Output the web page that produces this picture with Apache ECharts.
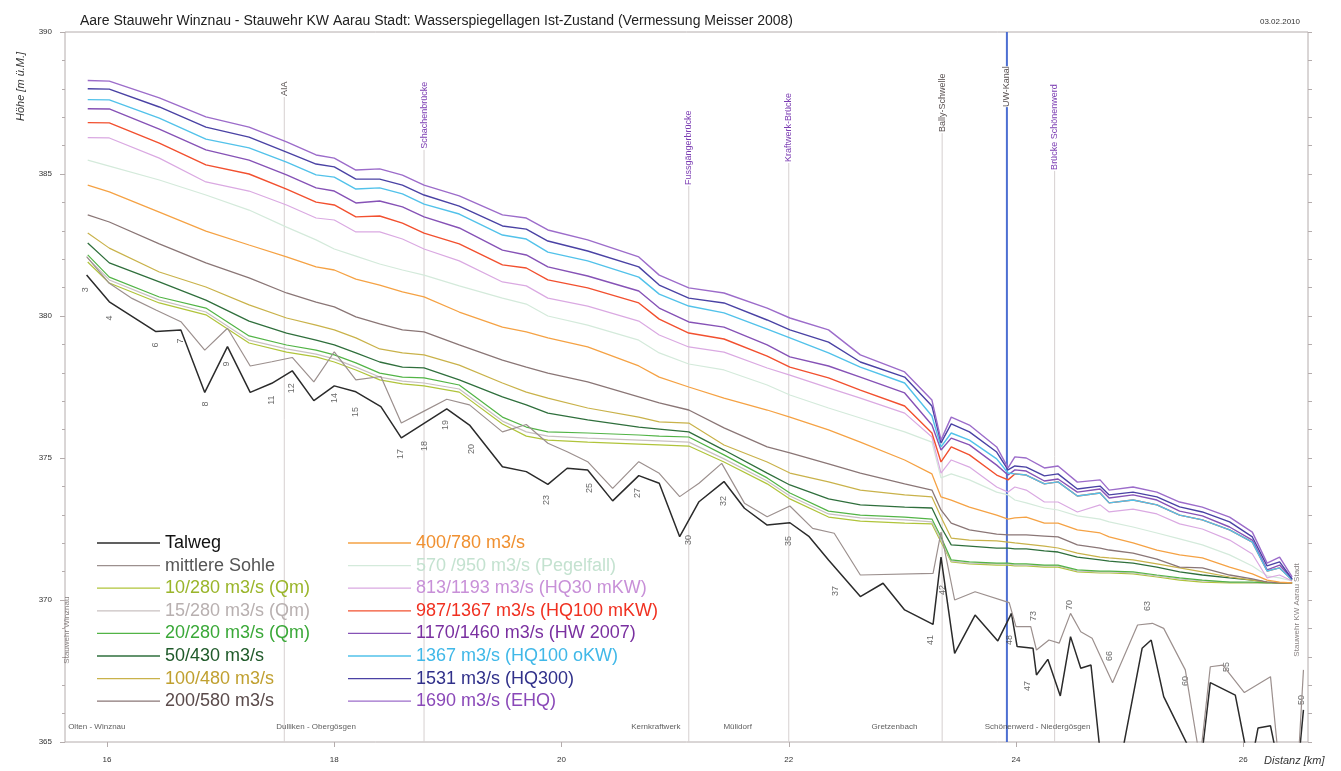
<!DOCTYPE html>
<html>
<head>
<meta charset="utf-8">
<title>Aare Wasserspiegellagen Ist-Zustand</title>
<script src="https://cdn.jsdelivr.net/npm/echarts@6/dist/echarts.min.js"></script>
<style>
  html, body { margin: 0; padding: 0; background: #fff; }
  #chart { width: 1341px; height: 771px; }
</style>
</head>
<body>
<div id="chart"></div>
<script>
// Stationen der Wasserspiegel-Berechnung [km]
var kmWater = [15.83, 16.02, 16.46, 16.87, 17.25, 17.58, 17.84, 18.00, 18.19, 18.40, 18.60, 18.79, 19.10, 19.48, 19.69, 19.88, 20.23, 20.68, 20.86, 21.12, 21.43, 21.81, 22.01, 22.35, 22.63, 23.02, 23.26, 23.34, 23.43, 23.59, 23.83, 23.93, 23.99, 24.09, 24.25, 24.37, 24.54, 24.74, 24.82, 25.03, 25.24, 25.44, 25.64, 25.88, 26.08, 26.21, 26.32, 26.43];

// Wasserspiegel [m ü.M.]
var q10 = [381.90, 381.16, 380.46, 380.04, 379.05, 378.73, 378.56, 378.38, 378.10, 377.75, 377.61, 377.54, 377.32, 376.20, 375.77, 375.63, 375.56, 375.49, 375.46, 375.42, 374.86, 374.09, 373.56, 372.92, 372.78, 372.71, 372.68, 372.04, 371.34, 371.27, 371.23, 371.23, 371.20, 371.20, 371.16, 371.16, 370.99, 370.95, 370.95, 370.92, 370.81, 370.70, 370.63, 370.60, 370.60, 370.60, 370.60, 370.60];
var q15 = [382.04, 381.27, 380.56, 380.14, 379.15, 378.84, 378.66, 378.49, 378.20, 377.85, 377.71, 377.64, 377.43, 376.30, 375.92, 375.77, 375.70, 375.63, 375.60, 375.56, 374.97, 374.19, 373.66, 373.03, 372.89, 372.82, 372.75, 372.11, 371.37, 371.30, 371.27, 371.27, 371.23, 371.23, 371.20, 371.20, 371.02, 370.99, 370.99, 370.95, 370.85, 370.74, 370.67, 370.63, 370.60, 370.60, 370.60, 370.60];
var q20 = [382.15, 381.37, 380.67, 380.28, 379.30, 378.98, 378.80, 378.63, 378.35, 377.99, 377.85, 377.82, 377.57, 376.44, 376.09, 375.92, 375.88, 375.81, 375.77, 375.74, 375.11, 374.30, 373.77, 373.13, 372.99, 372.92, 372.85, 372.22, 371.41, 371.34, 371.30, 371.30, 371.27, 371.27, 371.23, 371.23, 371.06, 371.02, 371.02, 370.99, 370.88, 370.78, 370.70, 370.63, 370.63, 370.60, 370.60, 370.60];
var q50 = [382.57, 381.87, 381.20, 380.56, 379.82, 379.40, 379.15, 378.98, 378.70, 378.38, 378.20, 378.17, 377.75, 377.15, 376.87, 376.58, 376.34, 376.09, 376.02, 375.92, 375.28, 374.47, 374.05, 373.56, 373.35, 373.27, 373.24, 372.57, 371.94, 371.90, 371.83, 371.83, 371.80, 371.80, 371.73, 371.69, 371.51, 371.41, 371.37, 371.30, 371.16, 370.99, 370.88, 370.78, 370.70, 370.63, 370.60, 370.60];
var q100 = [382.92, 382.39, 381.55, 381.02, 380.39, 379.93, 379.68, 379.51, 379.23, 378.84, 378.70, 378.63, 378.27, 377.64, 377.32, 377.11, 376.76, 376.44, 376.27, 376.23, 375.46, 374.86, 374.47, 374.16, 373.87, 373.70, 373.63, 372.92, 372.18, 372.11, 372.08, 372.04, 372.01, 371.97, 371.90, 371.83, 371.65, 371.51, 371.48, 371.41, 371.27, 371.13, 370.99, 370.81, 370.70, 370.63, 370.60, 370.60];
var q200 = [383.56, 383.31, 382.54, 381.87, 381.34, 380.81, 380.49, 380.32, 379.97, 379.72, 379.51, 379.44, 378.98, 378.45, 378.20, 377.99, 377.68, 377.15, 376.94, 376.69, 376.06, 375.39, 375.18, 374.79, 374.47, 374.09, 373.87, 373.17, 372.71, 372.47, 372.32, 372.29, 372.29, 372.29, 372.25, 372.22, 371.94, 371.83, 371.76, 371.65, 371.44, 371.16, 371.13, 370.88, 370.74, 370.63, 370.60, 370.60];
var q400 = [384.61, 384.37, 383.66, 382.99, 382.50, 382.08, 381.73, 381.62, 381.30, 381.09, 380.85, 380.67, 380.14, 379.61, 379.44, 379.23, 378.91, 378.24, 377.85, 377.50, 377.11, 376.69, 376.44, 375.99, 375.56, 374.93, 374.44, 373.63, 373.52, 373.27, 372.99, 372.85, 372.89, 372.92, 372.71, 372.71, 372.47, 372.36, 372.22, 372.01, 371.76, 371.59, 371.48, 371.16, 370.92, 370.70, 370.63, 370.60];
var q570 = [385.49, 385.28, 384.79, 384.26, 383.73, 383.13, 382.68, 382.36, 382.11, 381.83, 381.62, 381.44, 381.06, 380.63, 380.42, 380.00, 379.68, 379.15, 378.70, 378.31, 378.10, 377.57, 377.22, 376.76, 376.41, 375.92, 375.56, 374.30, 374.44, 374.23, 373.80, 373.70, 373.52, 373.42, 373.24, 373.17, 372.96, 372.85, 372.75, 372.57, 372.36, 372.15, 371.94, 371.59, 371.20, 370.85, 370.78, 370.67];
var q813 = [386.28, 386.27, 385.56, 384.72, 384.40, 383.91, 383.45, 383.38, 382.96, 382.96, 382.71, 382.36, 381.94, 381.20, 381.06, 380.63, 380.35, 379.82, 379.33, 378.91, 378.73, 378.17, 377.92, 377.47, 377.11, 376.58, 375.74, 374.47, 374.93, 374.68, 373.98, 373.80, 373.98, 373.87, 373.45, 373.45, 373.10, 373.35, 373.10, 373.20, 373.03, 372.68, 372.50, 372.11, 371.62, 370.78, 370.88, 370.67];
var q987 = [386.81, 386.80, 386.09, 385.32, 385.00, 384.47, 384.01, 383.91, 383.49, 383.52, 383.27, 382.92, 382.54, 381.80, 381.69, 381.27, 380.99, 380.46, 379.89, 379.40, 379.19, 378.59, 378.20, 377.82, 377.39, 376.83, 375.88, 374.86, 375.39, 375.11, 374.40, 374.23, 374.44, 374.40, 374.09, 374.16, 373.66, 373.77, 373.42, 373.52, 373.35, 372.99, 372.82, 372.47, 372.04, 371.02, 371.13, 370.70];
var q1170 = [387.30, 387.29, 386.58, 385.85, 385.49, 384.97, 384.51, 384.40, 383.98, 384.05, 383.84, 383.49, 383.10, 382.32, 382.15, 381.73, 381.41, 380.88, 380.28, 379.79, 379.61, 378.98, 378.56, 378.24, 377.85, 377.29, 376.16, 375.28, 375.70, 375.46, 374.75, 374.40, 374.58, 374.54, 374.19, 374.26, 373.80, 373.91, 373.59, 373.70, 373.52, 373.13, 372.96, 372.57, 372.11, 371.06, 371.23, 370.74];
var q1367 = [387.62, 387.61, 386.97, 386.23, 385.92, 385.42, 384.97, 384.89, 384.47, 384.51, 384.30, 383.94, 383.59, 382.85, 382.71, 382.25, 381.94, 381.37, 380.77, 380.35, 380.11, 379.54, 379.23, 378.70, 378.20, 377.64, 376.48, 375.39, 375.88, 375.63, 374.97, 374.47, 374.44, 374.40, 374.09, 374.16, 373.66, 373.77, 373.42, 373.52, 373.35, 372.99, 372.82, 372.47, 372.04, 371.02, 371.13, 370.70];
var q1531 = [388.00, 387.99, 387.36, 386.65, 386.30, 385.77, 385.35, 385.25, 384.82, 384.82, 384.61, 384.26, 383.87, 383.17, 383.06, 382.64, 382.29, 381.73, 381.09, 380.63, 380.46, 379.86, 379.51, 379.08, 378.38, 377.85, 376.83, 375.53, 376.20, 375.92, 375.21, 374.58, 374.72, 374.68, 374.37, 374.44, 373.91, 374.01, 373.70, 373.80, 373.63, 373.28, 373.10, 372.75, 372.22, 371.20, 371.34, 370.74];
var q1690 = [388.29, 388.27, 387.68, 387.01, 386.65, 386.13, 385.67, 385.56, 385.14, 385.18, 384.96, 384.61, 384.23, 383.56, 383.45, 383.03, 382.68, 382.08, 381.44, 380.99, 380.81, 380.28, 379.93, 379.51, 378.63, 378.03, 377.04, 375.63, 376.44, 376.16, 375.39, 374.65, 375.04, 375.00, 374.65, 374.72, 374.15, 374.23, 373.87, 373.98, 373.80, 373.45, 373.27, 372.92, 372.39, 371.30, 371.51, 370.81];

// Talweg (tiefster Punkt je Profil)
var kmTalweg = [15.82, 16.02, 16.43, 16.65, 16.86, 17.06, 17.26, 17.45, 17.63, 17.82, 18.00, 18.19, 18.41, 18.59, 18.79, 18.99, 19.19, 19.48, 19.69, 19.88, 20.05, 20.23, 20.45, 20.68, 20.86, 21.04, 21.21, 21.43, 21.61, 21.81, 22.01, 22.18, 22.35, 22.63, 22.83, 23.02, 23.27, 23.34, 23.46, 23.64, 23.84, 23.96, 24.01, 24.15, 24.18, 24.28, 24.39, 24.48, 24.57, 24.66, 24.81, 25.11, 25.19, 25.30, 25.62, 25.71, 25.93, 26.06, 26.13, 26.24, 26.32, 26.48, 26.53];
var talweg = [381.44, 380.50, 379.45, 379.51, 377.31, 378.92, 377.31, 377.63, 378.07, 377.02, 377.54, 377.33, 376.81, 375.71, 376.22, 376.73, 376.16, 374.69, 374.52, 374.07, 374.64, 374.58, 373.49, 374.38, 374.11, 372.23, 373.46, 374.17, 373.23, 372.64, 372.72, 372.23, 371.41, 370.12, 370.59, 369.65, 369.14, 371.51, 368.12, 369.47, 368.56, 369.53, 368.36, 368.30, 367.36, 367.91, 366.62, 368.71, 367.60, 367.71, 362.00, 368.30, 368.59, 366.60, 364.00, 367.09, 366.65, 364.00, 365.49, 365.57, 364.00, 364.00, 366.13];

// mittlere Sohle
var kmSohle = [15.82, 16.02, 16.22, 16.43, 16.65, 16.86, 17.06, 17.26, 17.45, 17.63, 17.82, 18.00, 18.19, 18.41, 18.59, 18.79, 18.99, 19.19, 19.48, 19.69, 19.88, 20.05, 20.23, 20.45, 20.68, 20.86, 21.04, 21.21, 21.41, 21.61, 21.81, 22.01, 22.21, 22.40, 22.63, 23.27, 23.34, 23.46, 23.64, 23.94, 24.00, 24.13, 24.18, 24.29, 24.38, 24.48, 24.57, 24.67, 24.85, 25.07, 25.20, 25.30, 25.49, 25.62, 25.71, 25.82, 26.01, 26.24, 26.32, 26.48, 26.53];
var sohle = [382.09, 381.15, 380.62, 380.21, 379.80, 378.80, 379.57, 378.24, 378.39, 378.54, 377.68, 378.74, 377.75, 377.87, 376.23, 376.65, 377.07, 376.87, 375.92, 376.18, 375.52, 375.22, 374.87, 373.93, 374.87, 374.46, 373.64, 374.11, 374.81, 373.41, 372.93, 373.31, 372.52, 372.35, 370.88, 370.94, 372.39, 370.00, 370.29, 369.91, 369.06, 369.06, 368.24, 368.59, 368.48, 369.53, 368.88, 368.65, 367.09, 369.12, 369.18, 369.00, 367.54, 364.37, 367.65, 367.71, 366.74, 367.30, 364.00, 364.00, 367.54];

// Bauwerke / Querbezuege (Lage, Unterkante Beschriftung)
var landmarkNames = ['AIA', 'Schachenbrücke', 'Fussgängerbrücke', 'Kraftwerk-Brücke', 'Bally-Schwelle', 'UW-Kanal', 'Brücke Schönenwerd'];
var landmarkKm = [17.56, 18.79, 21.12, 22.00, 23.35, 23.92, 24.34];
var landmarkTop = [387.71, 385.85, 384.58, 385.39, 386.44, 387.32, 385.11];

// Profilnummern
var profNames = ['3', '4', '6', '7', '8', '9', '11', '12', '14', '15', '17', '18', '19', '20', '23', '25', '27', '30', '32', '35', '37', '41', '42', '48', '47', '73', '70', '66', '63', '60', '55', '50'];
var profKm = [15.81, 16.02, 16.43, 16.65, 16.87, 17.05, 17.45, 17.62, 18.00, 18.19, 18.58, 18.79, 18.98, 19.21, 19.87, 20.25, 20.67, 21.12, 21.43, 22.00, 22.41, 23.25, 23.35, 23.94, 24.10, 24.15, 24.47, 24.82, 25.16, 25.49, 25.85, 26.51];
var profH = [380.92, 379.93, 378.98, 379.12, 376.90, 378.31, 377.04, 377.46, 377.11, 376.62, 375.14, 375.42, 376.16, 375.32, 373.52, 373.94, 373.77, 372.11, 373.49, 372.08, 370.32, 368.59, 370.35, 368.59, 366.97, 369.44, 369.82, 368.03, 369.79, 367.15, 367.64, 366.48];

// Ortschaften
var placeNames = ['Olten - Winznau', 'Dulliken - Obergösgen', 'Kernkraftwerk', 'Mülidorf', 'Gretzenbach', 'Schönenwerd - Niedergösgen'];
var placeKm = [15.91, 17.84, 20.83, 21.55, 22.93, 24.19];
var placeH = 365.53;

// Stauwehre an den Raendern
var weirNames = ['Stauwehr Winznau', 'Stauwehr KW Aarau Stadt'];
var weirKm = [15.65, 26.47];
var weirH = [368.94, 369.65];

var xTicks = [16, 18, 20, 22, 24, 26];

var FONT = '"Liberation Sans", Arial, sans-serif';

function zip(xs, ys) {
  return xs.map(function (x, i) { return [x, ys[i]]; });
}

var lines = [
  { name: 'Talweg', x: kmTalweg, y: talweg, color: '#2b2b2b', width: 1.5, text: '#111111' },
  { name: 'mittlere Sohle', x: kmSohle, y: sohle, color: '#9c908e', width: 1.2, text: '#555555' },
  { name: '10/280 m3/s (Qm)', x: kmWater, y: q10, color: '#b0c43a', width: 1.2, text: '#9ab52a' },
  { name: '15/280 m3/s (Qm)', x: kmWater, y: q15, color: '#c9c1c1', width: 1.2, text: '#b8b0b0' },
  { name: '20/280 m3/s (Qm)', x: kmWater, y: q20, color: '#52b446', width: 1.2, text: '#3aa838' },
  { name: '50/430 m3/s', x: kmWater, y: q50, color: '#2f6f3c', width: 1.3, text: '#1f5a2a' },
  { name: '100/480 m3/s', x: kmWater, y: q100, color: '#c9b24a', width: 1.2, text: '#c0a030' },
  { name: '200/580 m3/s', x: kmWater, y: q200, color: '#8a7676', width: 1.3, text: '#5a4a4a' },
  { name: '400/780 m3/s', x: kmWater, y: q400, color: '#f5a244', width: 1.3, text: '#f09030' },
  { name: '570 /950 m3/s (Pegelfall)', x: kmWater, y: q570, color: '#d4eadb', width: 1.2, text: '#c4e2d0' },
  { name: '813/1193 m3/s (HQ30 mKW)', x: kmWater, y: q813, color: '#daa9e2', width: 1.2, text: '#c890d8' },
  { name: '987/1367 m3/s (HQ100 mKW)', x: kmWater, y: q987, color: '#f2502f', width: 1.4, text: '#f03020' },
  { name: '1170/1460 m3/s (HW 2007)', x: kmWater, y: q1170, color: '#8652b6', width: 1.4, text: '#7a30a0' },
  { name: '1367 m3/s (HQ100 oKW)', x: kmWater, y: q1367, color: '#52c2ea', width: 1.4, text: '#40b8e8' },
  { name: '1531 m3/s (HQ300)', x: kmWater, y: q1531, color: '#4a42a4', width: 1.4, text: '#30308a' },
  { name: '1690 m3/s (EHQ)', x: kmWater, y: q1690, color: '#9c6cca', width: 1.4, text: '#8a48b8' }
];

var series = lines.map(function (l, i) {
  return {
    name: l.name,
    type: 'line',
    data: zip(l.x, l.y),
    showSymbol: false,
    symbol: 'none',
    clip: true,
    silent: true,
    z: i < 2 ? 4 : 3,
    lineStyle: { color: l.color, width: l.width },
    itemStyle: { color: l.color }
  };
});

// Bauwerke: duenne Vertikale mit gedrehter Beschriftung
series.push({
  type: 'custom',
  silent: true,
  z: 2,
  data: zip(landmarkKm, landmarkTop),
  renderItem: function (params, api) {
    var name = landmarkNames[params.dataIndex];
    var canal = name === 'UW-Kanal';
    var purple = name.indexOf('rücke') > 0;
    var base = api.coord([api.value(0), 365]);
    var end = api.coord([api.value(0), canal ? 390 : api.value(1)]);
    var lab = api.coord([api.value(0), api.value(1)]);
    return {
      type: 'group',
      children: [
        {
          type: 'line',
          shape: { x1: base[0], y1: base[1], x2: end[0], y2: end[1] },
          style: { stroke: canal ? '#4d6fd2' : '#d6d0d0', lineWidth: canal ? 2 : 1 }
        },
        {
          type: 'text',
          x: lab[0],
          y: lab[1] - 1,
          rotation: Math.PI / 2,
          z2: 10,
          style: {
            text: name,
            fill: purple ? '#7b3cb2' : '#5a5252',
            font: '9px ' + FONT,
            align: 'left',
            verticalAlign: 'middle',
            backgroundColor: canal ? '#ffffff' : 'transparent'
          }
        }
      ]
    };
  }
});

// Profilnummern
series.push({
  type: 'scatter',
  silent: true,
  data: zip(profKm, profH),
  symbolSize: 1,
  itemStyle: { color: 'transparent' },
  label: {
    show: true,
    position: 'inside',
    rotate: 90,
    fontSize: 9,
    fontFamily: FONT,
    color: '#444',
    formatter: function (p) { return profNames[p.dataIndex]; }
  }
});

// Ortschaften
series.push({
  type: 'scatter',
  silent: true,
  data: placeKm.map(function (k) { return [k, placeH]; }),
  symbolSize: 1,
  itemStyle: { color: 'transparent' },
  label: {
    show: true,
    position: 'inside',
    fontSize: 8,
    fontFamily: FONT,
    color: '#333',
    formatter: function (p) { return placeNames[p.dataIndex]; }
  }
});

// Stauwehre
series.push({
  type: 'scatter',
  silent: true,
  data: zip(weirKm, weirH),
  symbolSize: 1,
  itemStyle: { color: 'transparent' },
  label: {
    show: true,
    position: 'inside',
    rotate: 90,
    fontSize: 8,
    fontFamily: FONT,
    color: '#6a6262',
    formatter: function (p) { return weirNames[p.dataIndex]; }
  }
});

function legendBlock(names, left) {
  return {
    orient: 'vertical',
    left: left,
    top: 534,
    padding: 0,
    itemWidth: 63,
    itemHeight: 12,
    itemGap: 4.6,
    selectedMode: false,
    textStyle: { fontSize: 18, lineHeight: 17, fontFamily: FONT },
    data: names.map(function (n) {
      var l = lines.filter(function (s) { return s.name === n; })[0];
      return { name: n, icon: 'path://M0,0L100,0L100,2L0,2Z', itemStyle: { color: l.color }, textStyle: { color: l.text } };
    })
  };
}

var names = lines.map(function (l) { return l.name; });

var option = {
  backgroundColor: '#ffffff',
  animation: false,
  title: [
    {
      text: 'Aare Stauwehr Winznau - Stauwehr KW Aarau Stadt: Wasserspiegellagen Ist-Zustand (Vermessung Meisser 2008)',
      left: 75,
      top: 9,
      textStyle: { fontSize: 14, fontWeight: 'normal', color: '#222', fontFamily: FONT }
    },
    {
      text: '03.02.2010',
      right: 36,
      top: 13,
      textStyle: { fontSize: 8, fontWeight: 'normal', color: '#333', fontFamily: FONT }
    }
  ],
  legend: [legendBlock(names.slice(0, 8), 97), legendBlock(names.slice(8), 348)],
  grid: {
    left: 65,
    right: 33,
    top: 32,
    bottom: 29,
    show: true,
    borderColor: '#b4acac',
    borderWidth: 1,
    backgroundColor: 'transparent'
  },
  xAxis: {
    type: 'value',
    min: 15.63,
    max: 26.57,
    axisLine: { show: false },
    splitLine: { show: false },
    axisTick: { show: true, customValues: xTicks, length: 5, lineStyle: { color: '#b4acac' } },
    axisLabel: { customValues: xTicks, fontSize: 8, color: '#333', fontFamily: FONT, margin: 14 }
  },
  yAxis: [
    {
      type: 'value',
      min: 365,
      max: 390,
      interval: 5,
      axisLine: { show: false },
      splitLine: { show: false },
      axisTick: { show: true, length: 5, lineStyle: { color: '#b4acac' } },
      minorTick: { show: true, splitNumber: 5, length: 3, lineStyle: { color: '#b4acac' } },
      axisLabel: { fontSize: 8, color: '#333', fontFamily: FONT, margin: 13 }
    },
    {
      type: 'value',
      position: 'right',
      min: 365,
      max: 390,
      interval: 1,
      axisLine: { show: false },
      splitLine: { show: false },
      axisTick: { show: true, length: 4, lineStyle: { color: '#b4acac' } },
      axisLabel: { show: false }
    }
  ],
  graphic: [
    {
      type: 'text',
      x: 21,
      y: 121,
      rotation: Math.PI / 2,
      silent: true,
      style: { text: 'Höhe [m ü.M.]', font: 'italic 11px ' + FONT, fill: '#333', align: 'left', verticalAlign: 'middle' }
    },
    {
      type: 'text',
      x: 1264,
      y: 761,
      silent: true,
      style: { text: 'Distanz [km]', font: 'italic 11px ' + FONT, fill: '#333', align: 'left', verticalAlign: 'middle' }
    }
  ],
  series: series
};

var chart = echarts.init(document.getElementById('chart'));
chart.setOption(option);
</script>
</body>
</html>
